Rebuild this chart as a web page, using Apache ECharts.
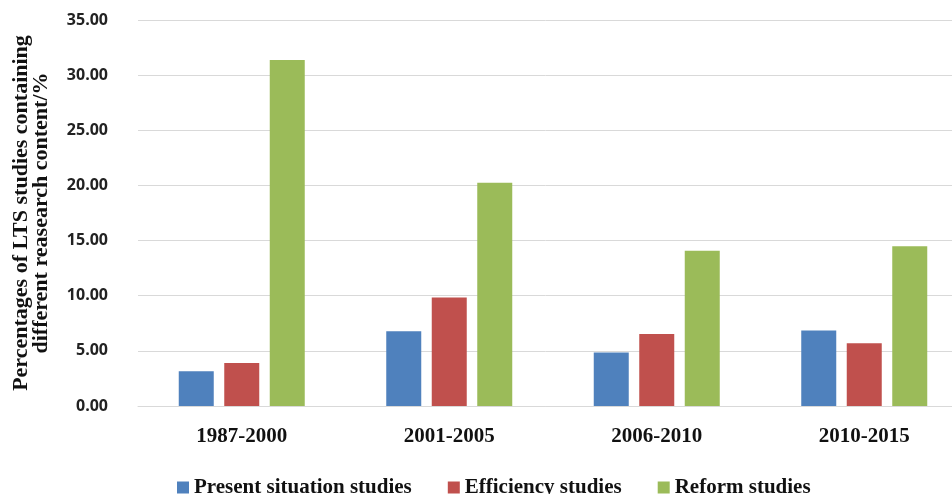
<!DOCTYPE html>
<html>
<head>
<meta charset="utf-8">
<script src="https://cdn.jsdelivr.net/npm/echarts@6/dist/echarts.min.js"></script>
<style>
  html, body { margin: 0; padding: 0; background: #fff; }
  #chart { width: 952px; height: 494px; }
</style>
</head>
<body>
<div id="chart"></div>
<script>
// Periods covered by the literature review
const periods = ['1987-2000', '2001-2005', '2006-2010', '2010-2015'];

// Share (%) of LTS studies by research content
const presentSituation = [3.15, 6.78, 4.84, 6.84];
const efficiency = [3.90, 9.84, 6.53, 5.69];
const reform = [31.37, 20.24, 14.07, 14.49];

const seriesNames = ['Present situation studies', 'Efficiency studies', 'Reform studies'];
const seriesColors = ['#4F81BD', '#C0504D', '#9BBB59'];

const serif = '"Liberation Serif", "Times New Roman", serif';
const sans = '"Open Sans", "Liberation Sans", sans-serif';

const chart = echarts.init(document.getElementById('chart'));

const barSeries = [presentSituation, efficiency, reform].map((values, i) => ({
  name: seriesNames[i],
  type: 'bar',
  data: values,
  barWidth: 35,
  barGap: '30%',
  itemStyle: { color: seriesColors[i] }
}));

chart.setOption({
  backgroundColor: '#ffffff',
  animation: false,
  grid: {
    left: 138,
    top: 20,
    width: 830,
    height: 386,
    outerBoundsMode: 'none'
  },
  legend: {
    left: 172,
    top: 472,
    itemWidth: 12,
    itemHeight: 12,
    itemGap: 36,
    icon: 'rect',
    textStyle: {
      fontFamily: serif,
      fontWeight: 'bold',
      fontSize: 21,
      color: '#111'
    },
    data: seriesNames
  },
  xAxis: {
    type: 'category',
    data: periods,
    axisTick: { show: false },
    axisLine: { lineStyle: { color: '#d9d9d9', width: 1 } },
    axisLabel: {
      margin: 20,
      fontFamily: serif,
      fontWeight: 'bold',
      fontSize: 21,
      color: '#111'
    }
  },
  yAxis: {
    type: 'value',
    min: 0,
    max: 35,
    interval: 5,
    name: 'Percentages of LTS studies containing\ndifferent reasearch content/%',
    nameLocation: 'middle',
    nameRotate: 90,
    nameGap: 87,
    nameTextStyle: {
      fontFamily: serif,
      fontWeight: 'bold',
      fontSize: 22,
      lineHeight: 20,
      color: '#111'
    },
    axisLine: { show: false },
    axisTick: { show: false },
    splitLine: { lineStyle: { color: '#d9d9d9', width: 1 } },
    axisLabel: {
      margin: 30,
      fontFamily: sans,
      fontWeight: 'bold',
      fontSize: 16,
      color: '#222',
      formatter: v => v.toFixed(2)
    }
  },
  series: barSeries
});
</script>
</body>
</html>
